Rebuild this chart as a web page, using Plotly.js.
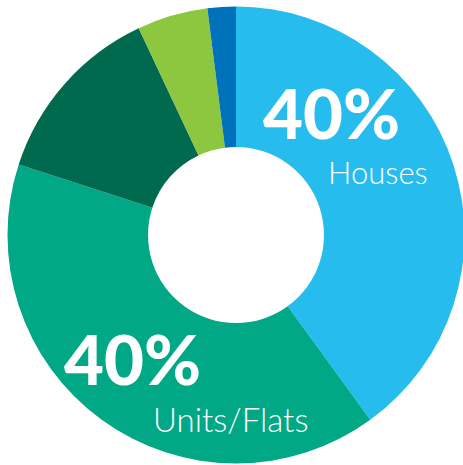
<!DOCTYPE html>
<html>
<head>
<meta charset="utf-8">
<script src="https://cdn.plot.ly/plotly-3.0.1.min.js"></script>
<style>
html,body{margin:0;padding:0;overflow:hidden;background:#fff;}
#chart{width:472px;height:470px;}
</style>
</head>
<body>
<div id="chart"></div>
<script>
const categories = ["Houses", "Units/Flats", "Townhouses", "Other", "Retirement"];
const shares = [40, 40, 13, 5, 2];
const colors = ["#27bcee", "#00a886", "#006a4e", "#8dc63f", "#0072bc"];
const bigLabels = ["40%", "40%"];
const smallLabels = ["Houses", "Units/Flats"];

const W = 472, H = 470;
const px = x => x / W;
const py = y => 1 - y / H;

const data = [{
  type: "pie",
  labels: categories,
  values: shares,
  marker: {colors: colors, line: {width: 0}},
  hole: 0.385,
  sort: false,
  direction: "clockwise",
  rotation: 0,
  textinfo: "none",
  hoverinfo: "label+percent",
  showlegend: false,
  domain: {x: [7.5 / W, 464.5 / W], y: [6.5 / H, 463.5 / H]}
}];

const bigFont = {family: "Lato, sans-serif", size: 69, color: "#ffffff", weight: 900};
const smallFont = {family: "Lato, sans-serif", size: 31, color: "#ffffff", weight: 300};

const layout = {
  width: W, height: H,
  margin: {l: 0, r: 0, t: 0, b: 0},
  paper_bgcolor: "#ffffff",
  showlegend: false,
  annotations: [
    {text: bigLabels[0], x: px(331), y: py(112), xref: "paper", yref: "paper", showarrow: false, xanchor: "center", yanchor: "middle", font: bigFont},
    {text: smallLabels[0], x: px(378), y: py(172), xref: "paper", yref: "paper", showarrow: false, xanchor: "center", yanchor: "middle", font: smallFont},
    {text: bigLabels[1], x: px(132), y: py(358), xref: "paper", yref: "paper", showarrow: false, xanchor: "center", yanchor: "middle", font: bigFont},
    {text: smallLabels[1], x: px(230), y: py(419), xref: "paper", yref: "paper", showarrow: false, xanchor: "center", yanchor: "middle", font: {family: "Lato, sans-serif", size: 33, color: "#ffffff", weight: 300}}
  ]
};

Plotly.newPlot("chart", data, layout, {displayModeBar: false, staticPlot: true});
</script>
</body>
</html>
